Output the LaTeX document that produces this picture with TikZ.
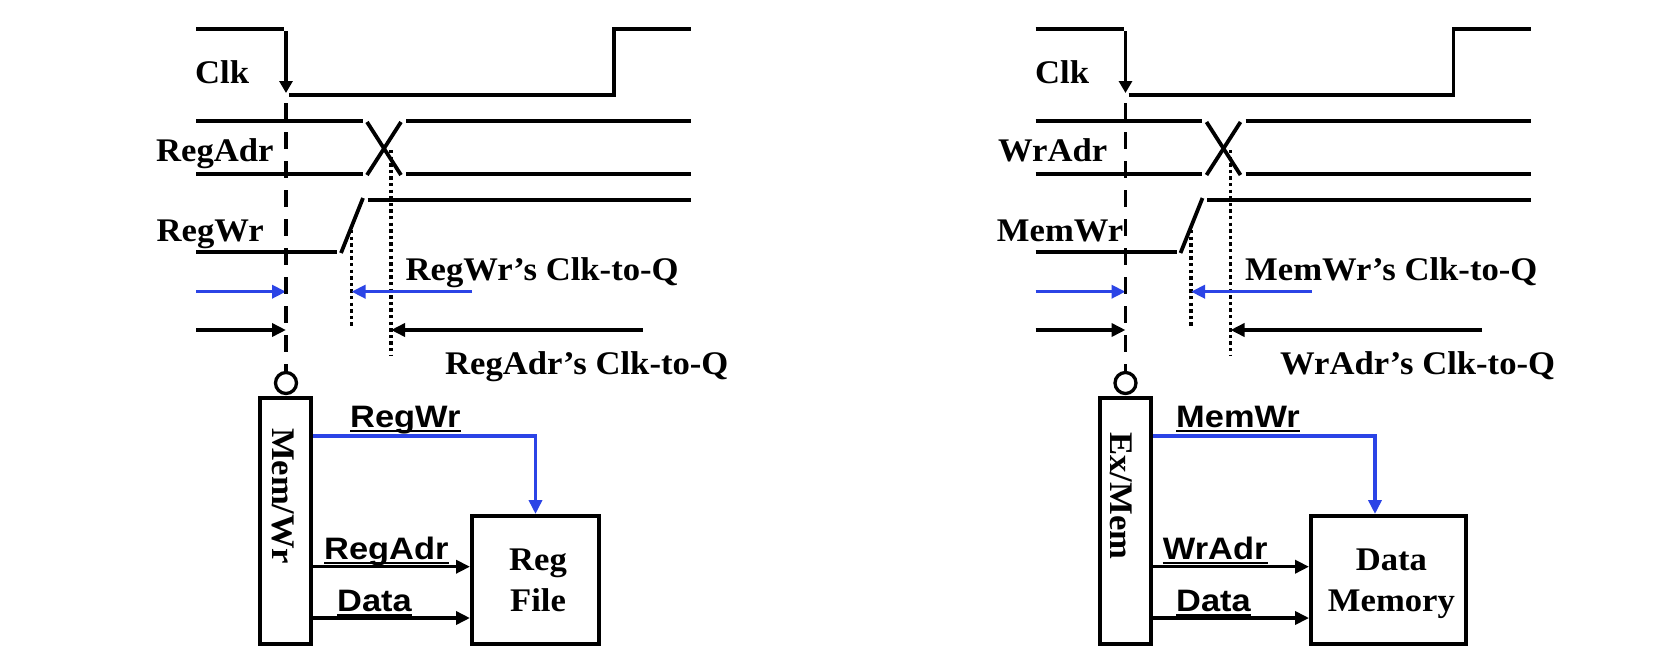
\documentclass[tikz,border=0pt]{standalone}
\usepackage{fontspec}
\setmainfont{Liberation Serif}[FakeStretch=1.05]
\newfontfamily\labsans{Liberation Sans}[FakeStretch=1.11]
\usetikzlibrary{arrows.meta,calc}
\definecolor{sigblue}{RGB}{43,68,230}
\tikzset{
  sig/.style={line width=3.8pt},
  clkdash/.style={line width=3.8pt, dash pattern=on 17pt off 12pt},
  qdot/.style={line width=3.3pt, dash pattern=on 3.3pt off 3.3pt},
  tarrow/.style={line width=3.5pt, -{Triangle[length=14pt,width=13pt]}},
  barrow/.style={tarrow, draw=sigblue},
  clkarrow/.style={line width=3.8pt, -{Triangle[length=12pt,width=13pt]}},
  serlab/.style={inner sep=0pt, anchor=base west, font=\fontsize{33}{38}\selectfont\bfseries},
  boxtext/.style={inner sep=0pt, anchor=base, font=\fontsize{33}{38}\selectfont\bfseries},
  vtext/.style={inner sep=0pt, rotate=-90, font=\fontsize{33}{38}\selectfont\bfseries},
  sanslab/.style={inner sep=0pt, anchor=base west, font=\labsans\fontsize{31}{35}\selectfont\bfseries},
  regbox/.style={draw, line width=4pt, inner sep=0pt},
  bubble/.style={draw, circle, line width=3.3pt, minimum size=21pt, inner sep=0pt},
  uline/.style={line width=2.2pt},
  ctrl/.style={line width=3.5pt, draw=sigblue, -{Triangle[length=14pt,width=13pt]}}
}
\begin{document}
\begin{tikzpicture}[x=1pt,y=-1pt]
\fill[white] (0,0) rectangle (1679,665);
\useasboundingbox (0,0) rectangle (1679,665);

%================ LEFT PANEL ================
% Clk
\draw[sig] (196,29) -- (284,29);
\draw[clkarrow] (286,31) -- (286,93);
\draw[sig] (289,95) -- (614,95) -- (614,29) -- (691,29);
% RegAdr bus
\draw[sig] (196,121) -- (362.5,121);
\draw[sig] (196,174) -- (362.5,174);
\draw[sig] (367,122) -- (401,175);
\draw[sig] (367,175) -- (401,122);
\draw[sig] (406,121) -- (691,121);
\draw[sig] (406,174) -- (691,174);
% RegWr
\draw[sig] (196,252) -- (337,252);
\draw[sig] (341,253) -- (363,198);
\draw[sig] (367.5,200) -- (691,200);
% dotted markers
\draw[qdot] (351.5,230) -- (351.5,328);
\draw[qdot] (391,150) -- (391,355);
% labels
\node[serlab] (lclk) at (195,83.3) {Clk};
\node[serlab] (lregadr) at (156,161.7) {RegAdr};
\node[serlab] (lregwr) at (156.5,241.7) {RegWr};
\node[serlab] (lq1) at (405.5,280.5) {RegWr’s Clk-to-Q};
\node[serlab] (lq2) at (445,374) {RegAdr’s Clk-to-Q};
% timing arrows
\draw[barrow] (196,291.7) -- (286,291.7);
\draw[barrow] (472,291.7) -- (351.5,291.7);
\draw[tarrow] (196,330) -- (286,330);
\draw[tarrow] (642.5,330) -- (391,330);
% register and reg file
\node[bubble] (lb) at (286,383) {};
\draw[clkdash] (286,103) -- (lb.north);
\node[regbox, minimum width=51pt, minimum height=246pt] (lmw) at (285.5,521) {};
\node[vtext] (lmwt) at ([xshift=-2.5pt,yshift=25pt]lmw.center) {Mem/Wr};
\node[regbox, minimum width=127pt, minimum height=128pt] (lrf) at (535.5,580) {};
\node[boxtext] (lrft1) at ([xshift=2.5pt,yshift=10pt]lrf.center) {Reg};
\node[boxtext] (lrft2) at ([xshift=2.5pt,yshift=-31.7pt]lrf.center) {File};
\draw[ctrl] (lmw.east |- 0,436) -| (lrf.north);
\draw[tarrow] (lmw.east |- 0,566.7) -- (lrf.west |- 0,566.7);
\draw[tarrow] (lmw.east |- 0,618) -- (lrf.west |- 0,618);
\node[sanslab] (lsw) at (350,427.3) {RegWr};
\node[sanslab] (lsa) at (324,559.3) {RegAdr};
\node[sanslab] (lsd) at (337,611.7) {Data};
\foreach \n in {lsw,lsa,lsd}
  \draw[uline] ([yshift=-3.5pt]\n.base west) -- ([yshift=-3.5pt]\n.base east);

%================ RIGHT PANEL ================
% Clk
\draw[sig] (1035.5,29) -- (1123.5,29);
\draw[clkarrow] (1125.5,31) -- (1125.5,93);
\draw[sig] (1128.5,95) -- (1453.5,95) -- (1453.5,29) -- (1530.5,29);
% WrAdr bus
\draw[sig] (1035.5,121) -- (1202,121);
\draw[sig] (1035.5,174) -- (1202,174);
\draw[sig] (1206.5,122) -- (1240.5,175);
\draw[sig] (1206.5,175) -- (1240.5,122);
\draw[sig] (1245.5,121) -- (1530.5,121);
\draw[sig] (1245.5,174) -- (1530.5,174);
% MemWr
\draw[sig] (1035.5,252) -- (1176.5,252);
\draw[sig] (1180.5,253) -- (1202.5,198);
\draw[sig] (1207,200) -- (1530.5,200);
% dotted markers
\draw[qdot] (1191,230) -- (1191,328);
\draw[qdot] (1230.5,150) -- (1230.5,355);
% labels
\node[serlab] (rclk) at (1035,83.3) {Clk};
\node[serlab] (rwradr) at (998,161.7) {WrAdr};
\node[serlab] (rmemwr) at (996.7,241.7) {MemWr};
\node[serlab] (rq1) at (1245,280.5) {MemWr’s Clk-to-Q};
\node[serlab] (rq2) at (1280,374) {WrAdr’s Clk-to-Q};
% timing arrows
\draw[barrow] (1035.5,291.7) -- (1125.5,291.7);
\draw[barrow] (1311.5,291.7) -- (1191,291.7);
\draw[tarrow] (1035.5,330) -- (1125.5,330);
\draw[tarrow] (1482,330) -- (1230.5,330);
% register and data memory
\node[bubble] (rb) at (1125.5,383) {};
\draw[clkdash] (1125.5,103) -- (rb.north);
\node[regbox, minimum width=51pt, minimum height=246pt] (rem) at (1125.5,521) {};
\node[vtext] (remt) at ([xshift=-4pt,yshift=25pt]rem.center) {Ex/Mem};
\node[regbox, minimum width=154.7pt, minimum height=128pt] (rdm) at (1388.4,580) {};
\node[boxtext] (rdmt1) at ([xshift=3pt,yshift=10pt]rdm.center) {Data};
\node[boxtext] (rdmt2) at ([xshift=3pt,yshift=-31.7pt]rdm.center) {Memory};
\draw[ctrl] (rem.east |- 0,436) -| (rdm.north -| 1375,0);
\draw[tarrow] (rem.east |- 0,566.7) -- (rdm.west |- 0,566.7);
\draw[tarrow] (rem.east |- 0,618) -- (rdm.west |- 0,618);
\node[sanslab] (rsw) at (1176,427.3) {MemWr};
\node[sanslab] (rsa) at (1162.7,559.3) {WrAdr};
\node[sanslab] (rsd) at (1176,611.7) {Data};
\foreach \n in {rsw,rsa,rsd}
  \draw[uline] ([yshift=-3.5pt]\n.base west) -- ([yshift=-3.5pt]\n.base east);
\end{tikzpicture}
\end{document}
